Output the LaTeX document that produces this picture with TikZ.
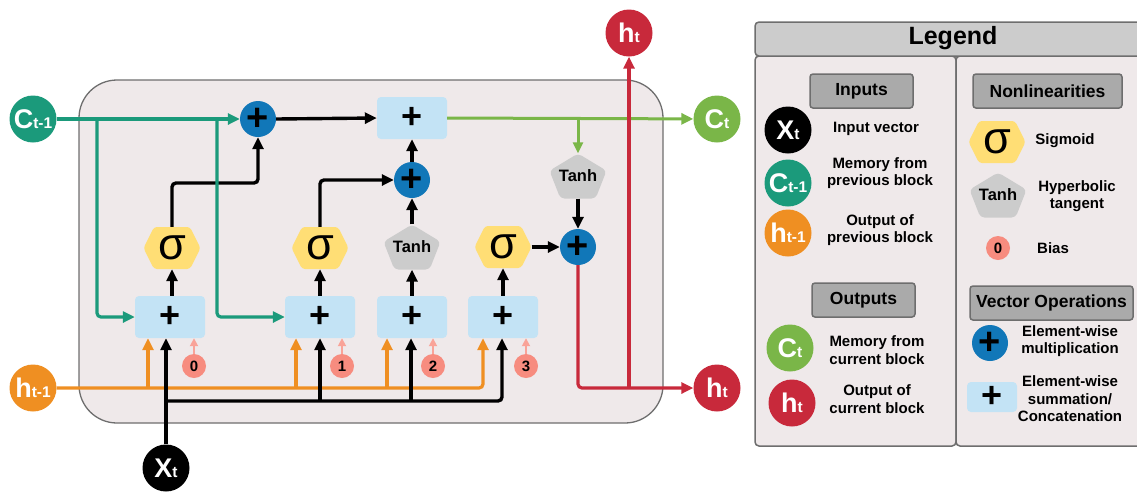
\documentclass[tikz,border=0pt]{standalone}
\usepackage{fontspec}
\setmainfont{Liberation Sans}
\usetikzlibrary{arrows.meta,calc}
\definecolor{cteal}{HTML}{1B9A7B}
\definecolor{corange}{HTML}{EF8F22}
\definecolor{cgreen}{HTML}{7AB648}
\definecolor{cred}{HTML}{C8293B}
\definecolor{cblue}{HTML}{1177B8}
\definecolor{clblue}{HTML}{C3E3F5}
\definecolor{cyellow}{HTML}{FFDE75}
\definecolor{cgray}{HTML}{CCCCCC}
\definecolor{csalmon}{HTML}{F78C7F}
\definecolor{csalmonl}{HTML}{F9A398}
\definecolor{cbg}{HTML}{EFE9EA}
\definecolor{cborder}{HTML}{6E6E6E}
\definecolor{cbtn}{HTML}{AAAAAA}
\newcommand{\clab}[2]{{\fontsize{27}{27}\selectfont #1}{\fontsize{15.5}{15.5}\selectfont #2}}
\tikzset{
  tip/.style={-{Triangle[length=12pt,width=11pt]}},
  bline/.style={line width=3.4pt, black, rounded corners=4pt},
  tline/.style={line width=3.2pt, cteal, rounded corners=4pt},
  oline/.style={line width=3.2pt, corange, rounded corners=4pt},
  gline/.style={line width=3pt, cgreen},
  rline/.style={line width=3.2pt, cred, rounded corners=4pt},
  sline/.style={line width=1.8pt, csalmonl, -{Triangle[length=8pt,width=8pt]}},
  circ/.style={circle, minimum size=47pt, inner sep=0pt, text=white, font=\bfseries},
  mult/.style={circle, fill=cblue, minimum size=36pt, inner sep=0pt, font=\bfseries\fontsize{38}{38}\selectfont},
  sumbox/.style={rectangle, rounded corners=4pt, fill=clblue, minimum width=70pt, minimum height=42pt, inner sep=0pt, font=\bfseries\fontsize{36}{36}\selectfont},
  bias/.style={circle, fill=csalmon, minimum size=24pt, inner sep=0pt, font=\bfseries\fontsize{15}{15}\selectfont},
  sighex/.style={minimum width=57pt, minimum height=42pt, inner sep=0pt, font=\fontsize{45}{45}\selectfont,
    path picture={\fill[cyellow, rounded corners=3pt]
      ([xshift=-28.5pt]path picture bounding box.center) --
      ([xshift=-18pt,yshift=21pt]path picture bounding box.center) --
      ([xshift=18pt,yshift=21pt]path picture bounding box.center) --
      ([xshift=28.5pt]path picture bounding box.center) --
      ([xshift=18pt,yshift=-21pt]path picture bounding box.center) --
      ([xshift=-18pt,yshift=-21pt]path picture bounding box.center) -- cycle;}},
  pent/.style={minimum width=57pt, minimum height=45pt, inner sep=0pt, font=\bfseries\fontsize{16.5}{16.5}\selectfont,
    path picture={\fill[cgray, rounded corners=4pt]
      ([yshift=22.5pt]path picture bounding box.center) --
      ([xshift=28.5pt,yshift=5.3pt]path picture bounding box.center) --
      ([xshift=17.6pt,yshift=-22.5pt]path picture bounding box.center) --
      ([xshift=-17.6pt,yshift=-22.5pt]path picture bounding box.center) --
      ([xshift=-28.5pt,yshift=5.3pt]path picture bounding box.center) -- cycle;}},
  btn/.style={rectangle, rounded corners=3pt, fill=cbtn, draw=cborder, line width=1.5pt, minimum height=34pt, inner sep=0pt, font=\bfseries\fontsize{17.5}{17.5}\selectfont},
  ltext/.style={align=center, inner sep=1pt, font=\bfseries\fontsize{15}{17.5}\selectfont},
  panel/.style={draw=cborder, line width=1.5pt, rounded corners=4pt}
}
\begin{document}
\begin{tikzpicture}[x=1pt,y=-1pt]
\useasboundingbox (0,0) rectangle (1137,491);
% main cell
\draw[fill=cbg, draw=cborder, line width=1.3pt, rounded corners=38pt] (79,80) rectangle (663,423);

% external nodes
\node[circ, fill=cteal] (cprev) at (33,119) {\clab{C}{t-1}};
\node[circ, fill=corange] (hprev) at (33,388) {\clab{h}{t-1}};
\node[circ, fill=black] (xt) at (166,468) {\clab{X}{t}};
\node[circ, fill=cred] (htop) at (629,33) {\clab{h}{t}};
\node[circ, fill=cgreen] (ct) at (717,119) {\clab{C}{t}};
\node[circ, fill=cred] (hcur) at (717,388) {\clab{h}{t}};

% boxes
\node[sumbox] (b1) at (170,317) {+};
\node[sumbox] (b2) at (320,317) {+};
\node[sumbox] (b3) at (412,317) {+};
\node[sumbox] (b4) at (503,317) {+};
\node[sumbox] (ba) at (412,118) {+};

% bias
\node[bias] (z0) at (194,366) {0};
\node[bias] (z1) at (342,366) {1};
\node[bias] (z2) at (433,366) {2};
\node[bias] (z3) at (526,366) {3};

% nonlinearities
\node[sighex] (s1) at (172,248) {σ};
\node[sighex] (s2) at (320,248) {σ};
\node[pent] (t1) at (412,247) {Tanh};
\node[sighex] (s4) at (503,247) {σ};
\node[pent] (t2) at (578,176) {Tanh};

% multiplications
\node[mult] (m1) at (258,119) {+};
\node[mult] (m2) at (412,180) {+};
\node[mult] (m3) at (578,247) {+};

% coordinates
\coordinate (o1) at (148,388);
\coordinate (o2) at (296,388);
\coordinate (o3) at (387,388);
\coordinate (o4) at (483,388);
\coordinate (xj) at (166,401);
\coordinate (x2) at (320,401);
\coordinate (x3) at (411,401);
\coordinate (xr) at (502,401);
\coordinate (tb1) at (97,119);
\coordinate (tb2) at (217,119);
\coordinate (k1) at (258,183);
\coordinate (g1) at (578,119);
\coordinate (r1) at (629,388);

% orange
\draw[oline, tip] (hprev) -- (o4) -- (o4 |- b4.south);
\draw[oline, tip] (o1) -- (o1 |- b1.south);
\draw[oline, tip] (o2) -- (o2 |- b2.south);
\draw[oline, tip] (o3) -- (o3 |- b3.south);

% bias arrows
\foreach \z/\b in {z0/b1,z1/b2,z2/b3,z3/b4}
  \draw[sline] (\z.north) -- (\z.north |- \b.south);

% black
\draw[bline, tip] (xt) -- (xt |- b1.south);
\draw[bline, tip] (xj) -- (xr) -- (xr |- b4.south);
\draw[bline, tip] (x2) -- (x2 |- b2.south);
\draw[bline, tip] (x3) -- (x3 |- b3.south);
\draw[bline, tip] (b1.north -| s1) -- (s1.south);
\draw[bline, tip] (b2.north) -- (s2.south);
\draw[bline, tip] (b3.north) -- (t1.south);
\draw[bline, tip] (b4.north) -- (s4.south);
\draw[bline, tip] (s1.north) |- (k1) -- (m1.south);
\draw[bline, tip] (s2.north) |- (m2.west);
\draw[bline, tip] (t1.north) -- (m2.south);
\draw[bline, tip] (m2.north) -- (ba.south);
\draw[bline, tip] (m1.east) -- (ba.west);
\draw[bline, tip] (s4.east) -- (m3.west);
\draw[bline, tip] (t2.south) -- (m3.north);

% teal
\draw[tline, tip] (cprev) -- (m1);
\draw[tline, tip] (tb1) |- (b1.west);
\draw[tline, tip] (tb2) |- (b2.west);

% green
\draw[gline, tip] (ba.east) -- (ct);
\draw[gline, -{Triangle[length=11pt,width=10pt]}] (g1) -- (t2.north);

% red
\draw[rline, tip] (m3.south) |- (hcur);
\draw[rline, tip] (r1) -- (htop);

% ---------------- legend ----------------
\draw[panel, fill=cbg] (755,56) rectangle (956,446);
\draw[panel, fill=cbg] (956,56) rectangle (1150,446);
\draw[panel, fill=cgray] (755,22) rectangle (1150,56);
\node[font=\bfseries\fontsize{25}{25}\selectfont] (ltitle) at (953,38) {Legend};

\node[btn, minimum width=103pt] (binp) at (861.5,91) {Inputs};
\node[btn, minimum width=149pt] (bnon) at (1047.5,91) {Nonlinearities};
\node[btn, minimum width=103pt] (bout) at (863.5,300) {Outputs};
\node[btn, minimum width=163pt] (bvec) at (1051.5,303) {Vector Operations};

\node[circ, fill=black] (lx) at (788,130) {\clab{X}{t}};
\node[ltext] (lxt) at (876,129) {Input vector};
\node[circ, fill=cteal] (lc) at (788,183) {\clab{C}{t-1}};
\node[ltext] (lct) at (880,173) {Memory from\\previous block};
\node[circ, fill=corange] (lh) at (788,233) {\clab{h}{t-1}};
\node[ltext] (lht) at (880,230) {Output of\\previous block};

\node[circ, fill=cgreen] (lco) at (790,348) {\clab{C}{t}};
\node[ltext] (lcot) at (877,350) {Memory from\\current block};
\node[circ, fill=cred] (lho) at (792,403) {\clab{h}{t}};
\node[ltext] (lhot) at (877,399) {Output of\\current block};

\node[sighex] (ls) at (997,142) {σ};
\node[ltext] (lst) at (1065,141) {Sigmoid};
\node[pent] (lt) at (998,195) {Tanh};
\node[ltext] (ltt) at (1077,196) {Hyperbolic\\tangent};
\node[bias] (lb) at (998,248) {0};
\node[ltext] (lbt) at (1053,248) {Bias};

\node[mult] (lm) at (990,343) {+};
\node[ltext] (lmt) at (1070,341) {Element-wise\\multiplication};
\node[sumbox, minimum width=50pt, minimum height=30pt] (lsb) at (992,397) {+};
\node[ltext] (lsbt) at (1070,399) {Element-wise\\summation/\\Concatenation};
\end{tikzpicture}
\end{document}
